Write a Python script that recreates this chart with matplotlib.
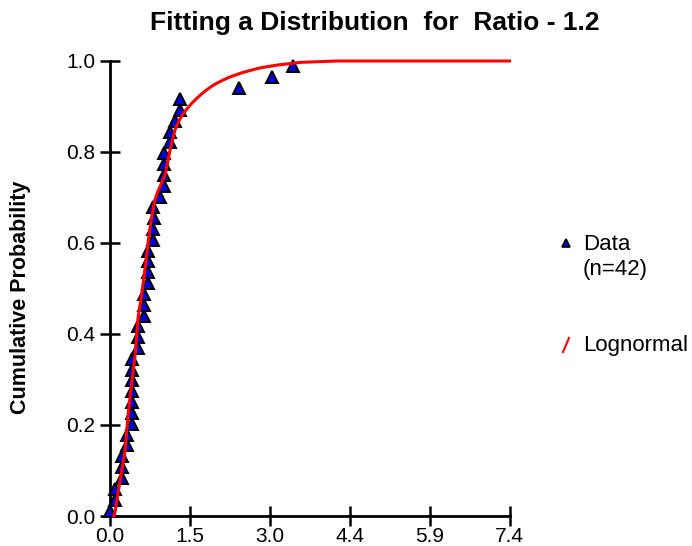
import matplotlib
matplotlib.use("Agg")
import matplotlib.pyplot as plt

plt.rcParams['font.family'] = ['Liberation Sans', 'DejaVu Sans']

# Observed data (sorted) and their cumulative probabilities
data_x = [0.01, 0.11, 0.11, 0.23, 0.23, 0.23, 0.32, 0.32, 0.41, 0.41,
          0.41, 0.41, 0.41, 0.41, 0.41, 0.52, 0.52, 0.52, 0.64, 0.64,
          0.64, 0.72, 0.72, 0.72, 0.72, 0.81, 0.81, 0.82, 0.80, 0.93,
          1.01, 1.01, 1.00, 1.00, 1.11, 1.11, 1.21, 1.31, 1.31, 2.40,
          3.00, 3.40]
data_y = [0.012, 0.036, 0.060, 0.083, 0.107, 0.131, 0.155, 0.179, 0.202, 0.226,
          0.250, 0.274, 0.298, 0.321, 0.345, 0.369, 0.393, 0.417, 0.440, 0.464,
          0.488, 0.512, 0.536, 0.560, 0.583, 0.607, 0.631, 0.655, 0.679, 0.702,
          0.726, 0.750, 0.774, 0.798, 0.821, 0.845, 0.869, 0.893, 0.917, 0.940,
          0.964, 0.988]

# Fitted lognormal CDF
fit_x = [0.08, 0.10, 0.19, 0.29, 0.34, 0.41, 0.47, 0.53, 0.60, 0.66,
         0.72, 0.78, 0.84, 0.90, 1.03, 1.12, 1.21, 1.30, 1.40, 1.49,
         1.58, 1.68, 1.77, 1.86, 1.95, 2.10, 2.23, 2.47, 2.79, 3.10,
         3.53, 4.20, 7.40]
fit_y = [0.000, 0.007, 0.073, 0.145, 0.218, 0.292, 0.349, 0.437, 0.490, 0.547,
         0.607, 0.657, 0.695, 0.715, 0.750, 0.804, 0.848, 0.872, 0.890, 0.903,
         0.914, 0.925, 0.934, 0.942, 0.949, 0.958, 0.965, 0.975, 0.985, 0.991,
         0.997, 1.000, 1.000]

x_ticks = [0.0, 1.48, 2.96, 4.44, 5.92, 7.4]
x_tick_labels = ["0.0", "1.5", "3.0", "4.4", "5.9", "7.4"]
y_ticks = [0.0, 0.2, 0.4, 0.6, 0.8, 1.0]
y_tick_labels = ["0.0", "0.2", "0.4", "0.6", "0.8", "1.0"]

W, H = 692, 546
fig = plt.figure(figsize=(W / 100, H / 100), dpi=100)
ax = fig.add_axes([109.5 / W, 1 - 516 / H, (509.5 - 109.5) / W, (516 - 61) / H])

ax.plot(data_x, data_y, linestyle='none', marker='^', markersize=8,
        markerfacecolor='#0000DD', markeredgecolor='black', markeredgewidth=1.4,
        clip_on=False, zorder=3)
ax.plot(fit_x, fit_y, color='#FF0000', linewidth=2.2, clip_on=False, zorder=4)

ax.set_xlim(0, 7.4)
ax.set_ylim(0, 1.0)
ax.set_xticks(x_ticks)
ax.set_xticklabels(x_tick_labels)
ax.set_yticks(y_ticks)
ax.set_yticklabels(y_tick_labels)

for s in ['top', 'right']:
    ax.spines[s].set_visible(False)
for s in ['left', 'bottom']:
    ax.spines[s].set_linewidth(2.0)
ax.tick_params(axis='both', direction='inout', length=14.5, width=1.8,
               labelsize=15, colors='black')
ax.tick_params(axis='x', pad=0.5)
ax.tick_params(axis='y', pad=3)

fig.text(375 / W, 1 - 23 / H, "Fitting a Distribution  for  Ratio - 1.2",
         ha='center', va='center', fontsize=19, fontweight='bold')
fig.text(21 / W, 1 - 297 / H, "Cumulative Probability", rotation=90,
         ha='center', va='center', fontsize=15.5, fontweight='bold')

# Legend (manual)
ax.plot([566 / W], [1 - 243 / H], transform=fig.transFigure, marker='^',
        markersize=6, markerfacecolor='#0000DD', markeredgecolor='black',
        markeredgewidth=1.2, linestyle='none', clip_on=False)
fig.text(583 / W, 1 - 244 / H, "Data", ha='left', va='center', fontsize=16)
fig.text(583 / W, 1 - 269 / H, "(n=42)", ha='left', va='center', fontsize=16)
ax.plot([563 / W, 569 / W], [1 - 352 / H, 1 - 338 / H], transform=fig.transFigure,
        color='#FF0000', linewidth=1.5, clip_on=False)
fig.text(583 / W, 1 - 346 / H, "Lognormal", ha='left', va='center', fontsize=16)

fig.savefig("out.png", dpi=100)
